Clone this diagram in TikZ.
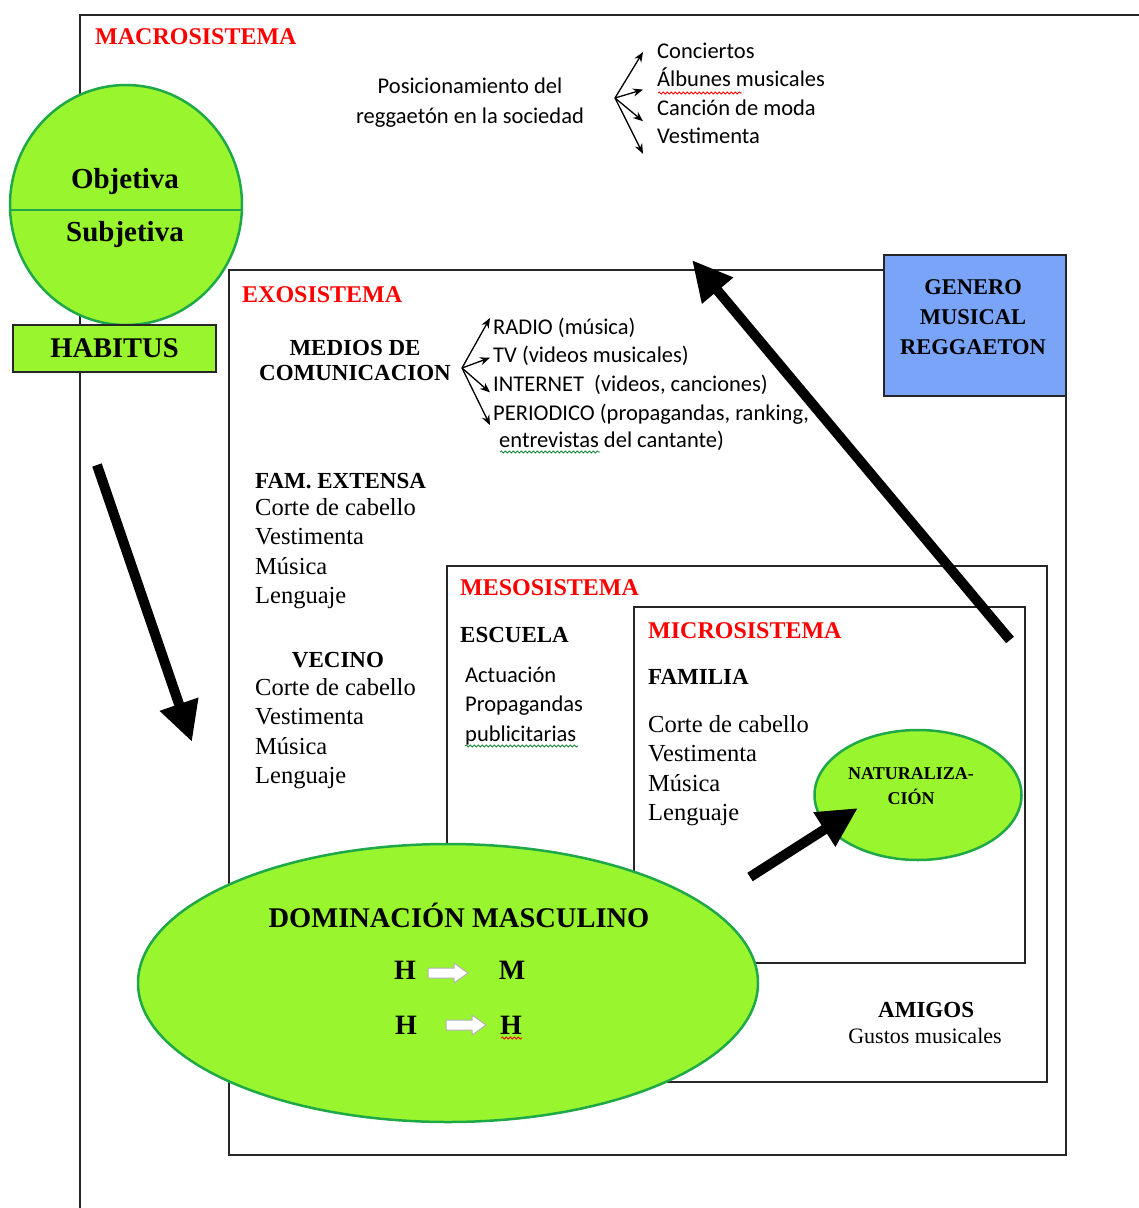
\documentclass[tikz,border=0pt]{standalone}
\usepackage{fontspec}
\setmainfont{Liberation Serif}
\newfontfamily\calib{Carlito}
\usetikzlibrary{arrows.meta,shapes.geometric,decorations.pathmorphing}
\definecolor{lime}{RGB}{153,246,46}
\definecolor{limeedge}{RGB}{30,168,72}
\definecolor{genblue}{RGB}{122,164,247}
\newcommand{\sz}[2]{\fontsize{#1}{#2}\selectfont}

\begin{document}
\begin{tikzpicture}[x=1pt,y=-1pt,
    sysline/.style={line width=1.6pt, draw=black!85},
    systitle/.style={anchor=west, inner sep=0pt, text=red, font=\bfseries\sz{24}{28}},
    head/.style={inner sep=0pt, font=\bfseries\sz{23}{29}},
    listtxt/.style={anchor=west, inner sep=0pt, text height=16pt, text depth=5pt, font=\sz{24.5}{29}},
    sanstxt/.style={anchor=west, inner sep=0pt, text height=14pt, text depth=4pt, font=\calib\sz{22.5}{29}},
    greenoval/.style={ellipse, draw=limeedge, fill=lime, line width=2.5pt, inner sep=0pt},
    bigarrow/.style={line width=10pt, -{Triangle[length=40pt,width=38pt]}},
    fanarrow/.style={line width=1.3pt, -{Stealth[length=10pt,width=8pt]}},
    squig/.style={decorate, decoration={snake, amplitude=1.1pt, segment length=4pt}, line width=0.8pt},
    wharrow/.pic={\draw[draw=gray!60, fill=white, line width=1pt]
        (0,-5) -- (26,-5) -- (26,-10) -- (40,0) -- (26,10) -- (26,5) -- (0,5) -- cycle;}]
    \useasboundingbox (0,0) rectangle (1139,1208);

    % Macrosistema
    \draw[sysline] (80,1208) -- (80,15) -- (1139,15);
    \node[systitle] (macro) at (95,37) {MACROSISTEMA};
    \node[align=center, inner sep=0pt, font=\calib\sz{22.5}{30}] (posic) at (470,103)
        {Posicionamiento del\\reggaetón en la sociedad};
    \coordinate (fanA) at (615,98);
    \foreach \txt [count=\i] in {Conciertos,Álbunes musicales,Canción de moda,Vestimenta} {
        \node[sanstxt] (mac\i) at (657,{53+28.6*(\i-1)}) {\txt};
    }
    \draw[fanarrow] (fanA) -- ([shift={(-14,-1)}]mac1.west);
    \draw[fanarrow] (fanA) -- ([shift={(-14,8)}]mac2.west);
    \draw[fanarrow] (fanA) -- ([shift={(-14,11)}]mac3.west);
    \draw[fanarrow] (fanA) -- ([shift={(-14,15)}]mac4.west);
    \draw[squig, red] (658,93) -- (742,93);

    % Exosistema, mesosistema, microsistema
    \draw[sysline] (229,270) rectangle (1066,1155);
    \draw[sysline] (447,566) rectangle (1047,1082);
    \draw[sysline] (634,607) rectangle (1025,963);
    \node[draw=black!85, line width=1.6pt, fill=genblue, minimum width=182pt, minimum height=141pt]
        (genero) at (975,325.5) {};
    \node[head, align=center, font=\bfseries\sz{22.5}{30}] (genlbl) at (973,317)
        {GENERO\\MUSICAL\\REGGAETON};

    % Exosistema
    \node[systitle] (exo) at (242,295) {EXOSISTEMA};
    \node[head, align=center, font=\bfseries\sz{23}{25}] (medios) at (355,360)
        {MEDIOS DE\\COMUNICACION};
    \coordinate (fanB) at (462,368);
    \foreach \txt [count=\i] in {{RADIO (música)},{TV (videos musicales)},
        {INTERNET~~(videos, canciones)},{PERIODICO (propagandas, ranking,}} {
        \node[sanstxt] (med\i) at (493,{329+28.7*(\i-1)}) {\txt};
    }
    \node[sanstxt] (med5) at (499,442) {entrevistas del cantante)};
    \draw[fanarrow] (fanB) -- ([shift={(-3,-11)}]med1.west);
    \draw[fanarrow] (fanB) -- ([shift={(-3,0)}]med2.west);
    \draw[fanarrow] (fanB) -- ([shift={(-3,6)}]med3.west);
    \draw[fanarrow] (fanB) -- ([shift={(-3,10)}]med4.west);
    \draw[squig, limeedge!80!black] (500,452) -- (600,452);

    \node[head, anchor=west] (famext) at (255,481) {FAM. EXTENSA};
    \foreach \txt [count=\i] in {Corte de cabello,Vestimenta,Música,Lenguaje} {
        \node[listtxt] (fam\i) at (255,{510+29.3*(\i-1)}) {\txt};
    }
    \node[head] (vecino) at (338,660) {VECINO};
    \foreach \txt [count=\i] in {Corte de cabello,Vestimenta,Música,Lenguaje} {
        \node[listtxt] (vec\i) at (255,{690+29.3*(\i-1)}) {\txt};
    }

    % Mesosistema
    \node[systitle] (meso) at (460,588) {MESOSISTEMA};
    \node[head, anchor=west] (escuela) at (460,635) {ESCUELA};
    \foreach \txt [count=\i] in {Actuación,Propagandas,publicitarias} {
        \node[sanstxt] (esc\i) at (465,{677+29.5*(\i-1)}) {\txt};
    }
    \draw[squig, limeedge!80!black] (465,746) -- (578,746);
    \node[head, anchor=west] (amigos) at (878,1010) {AMIGOS};
    \node[inner sep=0pt, font=\sz{22}{26}] (gustos) at (925,1036) {Gustos musicales};

    % Microsistema
    \node[systitle] (micro) at (648,631) {MICROSISTEMA};
    \node[head, anchor=west] (familia) at (648,677) {FAMILIA};
    \foreach \txt [count=\i] in {Corte de cabello,Vestimenta,Música,Lenguaje} {
        \node[listtxt] (fml\i) at (648,{727+29.3*(\i-1)}) {\txt};
    }
    \node[greenoval, minimum width=207pt, minimum height=130pt] (natur) at (918,795) {};
    \node[head, align=center, font=\bfseries\sz{18}{25}] (naturlbl) at (911,786)
        {NATURALIZA-\\CIÓN};

    % Dominacion masculino
    \node[greenoval, minimum width=620pt, minimum height=278pt] (domin) at (448,983) {};
    \node[head, font=\bfseries\sz{28.5}{30}] (dominlbl) at (459,915) {DOMINACIÓN MASCULINO};
    \node[head, font=\bfseries\sz{28}{30}] (h1) at (405,970) {H};
    \node[head, font=\bfseries\sz{28}{30}] (m1) at (512,970) {M};
    \node[head, font=\bfseries\sz{28}{30}] (h2) at (406,1025) {H};
    \node[head, font=\bfseries\sz{28}{30}] (h3) at (511,1025) {H};
    \pic at (428,973) {wharrow};
    \pic at (446,1025) {wharrow};
    \draw[squig, red] (501,1038) -- (522,1038);

    % Objetiva / Subjetiva y habitus
    \node[greenoval, minimum width=232pt, minimum height=240pt] (circ) at (126,205) {};
    \draw[limeedge, line width=2.5pt] ([xshift=1pt]circ.west |- 0,210) -- ([xshift=-1pt]circ.east |- 0,210);
    \node[head, font=\bfseries\sz{29}{30}] (objet) at (125,182) {Objetiva};
    \node[head, font=\bfseries\sz{29}{30}] (subjet) at (125,235) {Subjetiva};
    \node[draw=black!85, line width=1.6pt, fill=lime, minimum width=203pt, minimum height=47pt,
        font=\bfseries\sz{28.5}{30}] (habitus) at (114.5,348.5) {HABITUS};

    % Flechas
    \coordinate (a1s) at (97,465);   \coordinate (a1e) at (192,742);
    \coordinate (a2s) at (1010,640); \coordinate (a2e) at (692,260);
    \coordinate (a3s) at (750,877);  \coordinate (a3e) at (858,808);
    \draw[bigarrow] (a1s) -- (a1e);
    \draw[bigarrow] (a2s) -- (a2e);
    \draw[bigarrow] (a3s) -- (a3e);
\end{tikzpicture}
\end{document}
